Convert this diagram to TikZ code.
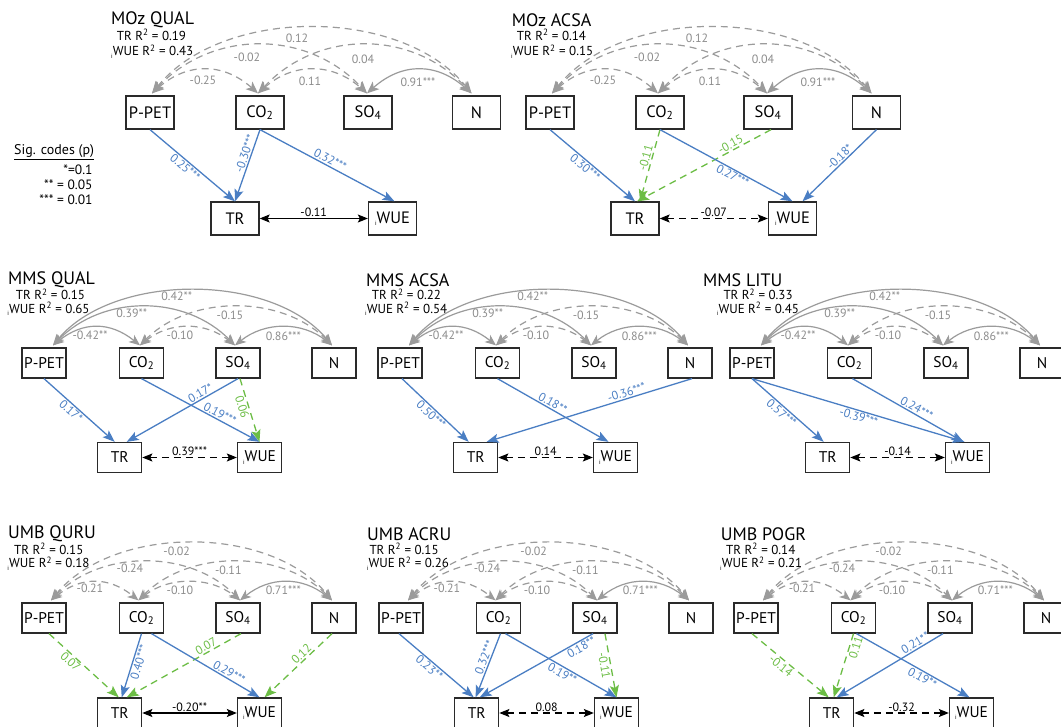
\documentclass[tikz,border=0pt]{standalone}
\usepackage{fontspec}
\setmainfont{PT Sans}
\usetikzlibrary{arrows.meta}
\definecolor{gl}{HTML}{9B9B9B}
\definecolor{gt}{HTML}{8C8C8C}
\definecolor{bl}{HTML}{4A7EC3}
\definecolor{gr}{HTML}{6CBD45}
\definecolor{bx}{HTML}{2A2A2A}
\newcommand\ii{{\fontsize{6}{6}\selectfont\raisebox{-2.5pt}{i}}}
\tikzset{
 bigbox/.style={draw=bx,line width=1.3pt,minimum width=48pt,minimum height=33pt,inner sep=0pt,font=\fontsize{16.5}{16.5}\selectfont},
 smallbox/.style={draw=bx,line width=1.3pt,minimum width=44pt,minimum height=30pt,inner sep=0pt,font=\fontsize{15.5}{15.5}\selectfont},
 ptitle/.style={anchor=west,inner sep=0pt,font=\fontsize{18}{18}\selectfont},
 rsq/.style={anchor=west,inner sep=0pt,font=\fontsize{13}{13}\selectfont},
 covs/.style={draw=gl,line width=1.2pt,{Stealth[length=12pt,width=10pt,inset=3pt]}-{Stealth[length=12pt,width=10pt,inset=3pt]}},
 covd/.style={covs,dash pattern=on 7pt off 5pt},
 covsm/.style={draw=gl,line width=1.2pt,{Stealth[length=11pt,width=9pt,inset=3pt]}-{Stealth[length=11pt,width=9pt,inset=3pt]}},
 covdm/.style={covsm,dash pattern=on 7pt off 5pt},
 clab/.style={text=gt,font=\fontsize{12}{12}\selectfont,inner sep=0pt},
 pb/.style={draw=bl,line width=1.3pt,-{Stealth[length=12pt,width=9pt,inset=2.5pt]}},
 pg/.style={draw=gr,line width=1.3pt,dash pattern=on 7pt off 5pt,-{Stealth[length=12pt,width=9pt,inset=2.5pt]}},
 lb/.style={text=bl,font=\fontsize{12}{12}\selectfont,sloped,inner sep=1.2pt},
 lg/.style={lb,text=gr},
 tw/.style={draw=black,line width=1.2pt,{Stealth[length=10pt,width=8pt,inset=2pt]}-{Stealth[length=10pt,width=8pt,inset=2pt]}},
 twd/.style={tw,dash pattern=on 7pt off 5pt},
 tlab/.style={font=\fontsize{12}{12}\selectfont,inner sep=1.2pt,above},
 sig/.style={anchor=east,inner sep=0pt,font=\fontsize{13.5}{13.5}\selectfont},
}
% covariance arc: style, from, xoff, to, xoff, horizontal ctrl, vertical ctrl
\newcommand\cov[7]{\draw[#1] ([xshift=#3pt,yshift=2pt]#2.north) .. controls +(#6,-#7) and +(-#6,-#7) .. ([xshift=#5pt,yshift=2pt]#4.north);}
% path: style, from, xoff, to, xoff, label options, label
\newcommand\pth[7]{\draw[#1] ([xshift=#3pt]#2.south) -- node[#6]{#7} ([xshift=#5pt]#4.north);}
\newcommand\toprow[1]{%
 \node[bigbox] (#1P) at (150,112.5) {P-PET};
 \node[bigbox] (#1C) at (260,112.5) {CO\textsubscript{2}};
 \node[bigbox] (#1S) at (368,112.5) {SO\textsubscript{4}};
 \node[bigbox] (#1N) at (476.5,112.5) {N};
 \node[bigbox] (#1T) at (235,218.5) {TR};
 \node[bigbox] (#1W) at (392.5,218.5) {\ii WUE};
 \cov{covd}{#1P}{2}{#1N}{-5}{70}{87}
 \cov{covd}{#1P}{2}{#1S}{-1}{60}{64}
 \cov{covd}{#1C}{-2}{#1N}{-5}{60}{64}
 \cov{covd}{#1P}{2}{#1C}{-2}{35}{31}
 \cov{covd}{#1C}{-2}{#1S}{-1}{35}{31}
 \cov{covs}{#1S}{-1}{#1N}{-5}{35}{31}
 \node[clab] at (297,38) {0.12};
 \node[clab] at (247,57) {-0.02};
 \node[clab] at (363,59) {0.04};
 \node[clab] at (203,80) {-0.25};
 \node[clab] at (310,81) {0.11};
 \node[clab] at (418,82) {0.91***};
}
\newcommand\midrow[1]{%
 \node[smallbox] (#1P) at (44,363) {P-PET};
 \node[smallbox] (#1C) at (141.5,363) {CO\textsubscript{2}};
 \node[smallbox] (#1S) at (238,363) {SO\textsubscript{4}};
 \node[smallbox] (#1N) at (334,363) {N};
 \node[smallbox] (#1T) at (119.7,457.5) {TR};
 \node[smallbox] (#1W) at (259.5,457.5) {\ii WUE};
 \cov{covsm}{#1P}{9}{#1N}{-2}{60}{73}
 \cov{covsm}{#1P}{9}{#1S}{-3}{50}{51}
 \cov{covdm}{#1C}{-1.5}{#1N}{-2}{50}{51}
 \cov{covsm}{#1P}{9}{#1C}{-1.5}{30}{24}
 \cov{covdm}{#1C}{-1.5}{#1S}{-3}{30}{24}
 \cov{covsm}{#1S}{-3}{#1N}{-2}{30}{24}
 \node[clab] at (176.7,296.7) {0.42**};
 \node[clab] at (131.7,313.3) {0.39**};
 \node[clab] at (230,315) {-0.15};
 \node[clab] at (90,335) {-0.42**};
 \node[clab] at (180,335) {-0.10};
 \node[clab] at (283.3,336.7) {0.86***};
}
\newcommand\botrow[1]{%
 \node[smallbox] (#1P) at (44,618) {P-PET};
 \node[smallbox] (#1C) at (141.5,618) {CO\textsubscript{2}};
 \node[smallbox] (#1S) at (238,618) {SO\textsubscript{4}};
 \node[smallbox] (#1N) at (334,618) {N};
 \node[smallbox] (#1T) at (119.7,713) {TR};
 \node[smallbox] (#1W) at (259.5,713) {\ii WUE};
 \cov{covdm}{#1P}{7}{#1N}{-2}{62}{76}
 \cov{covdm}{#1P}{7}{#1S}{2}{50}{51}
 \cov{covdm}{#1C}{-3}{#1N}{-2}{50}{51}
 \cov{covdm}{#1P}{7}{#1C}{-3}{30}{24}
 \cov{covdm}{#1C}{-3}{#1S}{2}{30}{24}
 \cov{covsm}{#1S}{2}{#1N}{-2}{30}{24}
 \node[clab] at (176.7,551.7) {-0.02};
 \node[clab] at (130,568.3) {-0.24};
 \node[clab] at (228.3,570) {-0.11};
 \node[clab] at (90,588.3) {-0.21};
 \node[clab] at (180,590) {-0.10};
 \node[clab] at (283.3,590.7) {0.71***};
}
\begin{document}
\begin{tikzpicture}[x=1pt,y=-1pt]
\useasboundingbox (0,0) rectangle (1061,727);
% titles
\node[ptitle] (t1) at (111,20) {MOz QUAL};
\node[rsq] (r1a) at (116.7,35) {TR R\textsuperscript{2} = 0.19};
\node[rsq] (r1b) at (111,51.5) {\ii WUE R\textsuperscript{2} = 0.43};
\node[ptitle] (t2) at (511.7,20) {MOz ACSA};
\node[rsq] (r2a) at (516.7,35) {TR R\textsuperscript{2} = 0.14};
\node[rsq] (r2b) at (511,51.5) {\ii WUE R\textsuperscript{2} = 0.15};
\node[ptitle] (t3) at (8,280) {MMS QUAL};
\node[rsq] (r3a) at (15.7,294.5) {TR R\textsuperscript{2} = 0.15};
\node[rsq] (r3b) at (7.3,309) {\ii WUE R\textsuperscript{2} = 0.65};
\node[ptitle] (t4) at (366,280) {MMS ACSA};
\node[rsq] (r4a) at (371.7,294.5) {TR R\textsuperscript{2} = 0.22};
\node[rsq] (r4b) at (365,309) {\ii WUE R\textsuperscript{2} = 0.54};
\node[ptitle] (t5) at (703,280) {MMS LITU};
\node[rsq] (r5a) at (723.3,294.5) {TR R\textsuperscript{2} = 0.33};
\node[rsq] (r5b) at (716.7,309) {\ii WUE R\textsuperscript{2} = 0.45};
\node[ptitle] (t6) at (8,534) {UMB QURU};
\node[rsq] (r6a) at (14,549) {TR R\textsuperscript{2} = 0.15};
\node[rsq] (r6b) at (7.3,563.5) {\ii WUE R\textsuperscript{2} = 0.18};
\node[ptitle] (t7) at (367,534) {UMB ACRU};
\node[rsq] (r7a) at (369.3,549) {TR R\textsuperscript{2} = 0.15};
\node[rsq] (r7b) at (366.7,563.5) {\ii WUE R\textsuperscript{2} = 0.26};
\node[ptitle] (t8) at (720.7,534) {UMB POGR};
\node[rsq] (r8a) at (726,549) {TR R\textsuperscript{2} = 0.14};
\node[rsq] (r8b) at (720,563.5) {\ii WUE R\textsuperscript{2} = 0.21};
% significance codes
\node[rsq,font=\fontsize{14}{14}\selectfont] (sg0) at (14,152.3) {\underline{Sig. codes (p)}};
\node[sig] (sg1) at (92.7,170) {*=0.1};
\node[sig] (sg2) at (92.7,185) {** = 0.05};
\node[sig] (sg3) at (92.7,200) {*** = 0.01};
% panel 1
\begin{scope}
\toprow{a}
\pth{pb}{aP}{0}{aT}{0}{lb,pos=.46,below}{0.25***}
\pth{pb}{aC}{0}{aT}{0}{lb,pos=.36,above}{-0.30***}
\pth{pb}{aC}{0}{aW}{2}{lb,pos=.5,above}{0.32***}
\draw[tw] (aT.east) -- node[tlab]{-0.11} (aW.west);
\end{scope}
% panel 2
\begin{scope}[xshift=400pt]
\toprow{b}
\pth{pb}{bP}{0}{bT}{0}{lb,pos=.46,below}{0.30***}
\pth{pg}{bC}{0}{bT}{5}{lg,pos=.42,above}{-0.11}
\pth{pg}{bS}{3}{bT}{2}{lg,pos=.28,above}{-0.15}
\pth{pb}{bC}{0}{bW}{0}{lb,pos=.57,below}{0.27***}
\pth{pb}{bN}{0}{bW}{10}{lb,pos=.44,above}{-0.18*}
\draw[twd] (bT.east) -- node[tlab]{-0.07} (bW.west);
\end{scope}
% panel 3
\begin{scope}
\midrow{c}
\pth{pb}{cP}{0}{cT}{-5}{lb,pos=.44,below}{0.17*}
\pth{pb}{cS}{0}{cT}{7}{lb,pos=.31,above}{0.17*}
\pth{pb}{cC}{0}{cW}{0}{lb,pos=.64,above}{0.19***}
\pth{pg}{cS}{2}{cW}{0}{lg,pos=.42,below}{0.06}
\draw[twd] (cT.east) -- node[tlab]{0.39***} (cW.west);
\end{scope}
% panel 4
\begin{scope}[xshift=356pt]
\midrow{d}
\pth{pb}{dP}{2}{dT}{-7}{lb,pos=.5,below}{0.50***}
\pth{pb}{dC}{0}{dW}{-7}{lb,pos=.47,above}{0.18**}
\pth{pb}{dN}{2}{dT}{11}{lb,pos=.31,above}{-0.36***}
\draw[twd] (dT.east) -- node[tlab]{0.14} (dW.west);
\end{scope}
% panel 5
\begin{scope}[xshift=708pt]
\midrow{e}
\pth{pb}{eP}{0}{eT}{-4}{lb,pos=.47,below}{0.57***}
\pth{pb}{eP}{0}{eW}{-3}{lb,pos=.51,below}{-0.39***}
\pth{pb}{eC}{3}{eW}{-4}{lb,pos=.55,above}{0.24***}
\draw[twd] (eT.east) -- node[tlab]{-0.14} (eW.west);
\end{scope}
% panel 6
\begin{scope}
\botrow{f}
\pth{pg}{fP}{5}{fT}{-1}{lg,pos=.37,below}{0.07}
\pth{pb}{fC}{0}{fT}{2}{lb,pos=.42,below}{0.40***}
\pth{pg}{fS}{3}{fT}{7}{lg,pos=.28,above}{0.07}
\pth{pb}{fC}{10}{fW}{0}{lb,pos=.69,above}{0.29***}
\pth{pg}{fN}{-2}{fW}{5}{lg,pos=.39,above}{0.12}
\draw[tw] (fT.east) -- node[tlab]{-0.20**} (fW.west);
\end{scope}
% panel 7
\begin{scope}[xshift=357pt]
\botrow{g}
\pth{pb}{gP}{-2}{gT}{-3}{lb,pos=.46,below}{0.23**}
\pth{pb}{gC}{2}{gT}{-1}{lb,pos=.41,above}{0.32***}
\pth{pb}{gS}{-2}{gT}{3}{lb,pos=.13,below}{0.18**}
\pth{pb}{gC}{7}{gW}{0}{lb,pos=.54,below}{0.19**}
\pth{pg}{gS}{10}{gW}{0}{lg,pos=.48,below}{-0.11}
\draw[twd] (gT.east) -- node[tlab]{0.08} (gW.west);
\end{scope}
% panel 8
\begin{scope}[xshift=712pt]
\botrow{h}
\pth{pg}{hP}{-4}{hT}{-3}{lg,pos=.43,below}{-0.14}
\pth{pg}{hC}{0}{hT}{2}{lg,pos=.19,below}{0.11}
\pth{pb}{hS}{-7}{hT}{5}{lb,pos=.23,above}{0.21**}
\pth{pb}{hC}{3}{hW}{-2}{lb,pos=.61,below}{0.19**}
\draw[twd] (hT.east) -- node[tlab]{-0.32} (hW.west);
\end{scope}
\end{tikzpicture}
\end{document}
